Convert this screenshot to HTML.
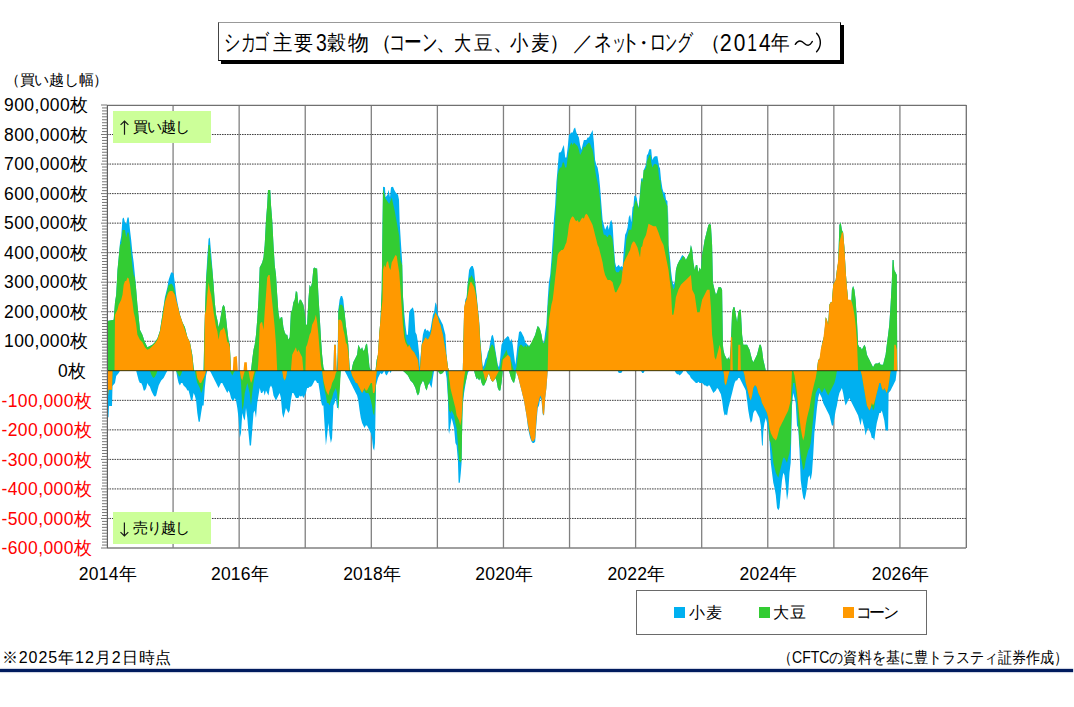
<!DOCTYPE html>
<html><head><meta charset="utf-8">
<style>
html,body{margin:0;padding:0;background:#fff;}
body{width:1074px;height:707px;overflow:hidden;position:relative;font-family:"Liberation Sans",sans-serif;}
svg{position:absolute;left:0;top:0;}
text{font-family:"Liberation Sans",sans-serif;}
.yl{font-size:17.5px;letter-spacing:0.4px;}
.xl{font-size:17.5px;letter-spacing:0.2px;}
.tt{position:absolute;left:218px;top:22px;width:621px;height:37px;border:1px solid #000;border-top-color:#999;border-left-color:#444;background:#fff;box-shadow:3px 3px 0 0 #000;font-size:20.5px;line-height:37px;white-space:nowrap;letter-spacing:-2.5px;}
.tt span{position:absolute;left:4px;top:0;}
.tt em{font-style:normal;letter-spacing:0.3px;}
.ax{position:absolute;left:5px;top:71px;font-size:15px;white-space:nowrap;letter-spacing:-0.3px;}
.lg{position:absolute;left:636px;top:590px;width:289px;height:43px;border:1px solid #6a6a6a;background:#fff;}
.lg i{position:absolute;top:16px;width:11px;height:11px;}
.lg b{position:absolute;top:12px;font-weight:normal;font-size:15.5px;white-space:nowrap;}
.ft{position:absolute;font-size:16px;white-space:nowrap;}
.nv{position:absolute;left:0;top:668.7px;width:1073px;height:3.6px;background:#001B5E;box-shadow:0 0 1px 0.2px rgba(0,27,94,0.6);}
.bx{position:absolute;background:#CCFF99;font-size:15px;white-space:nowrap;letter-spacing:-0.9px;}
</style></head><body>
<svg width="1074" height="707" viewBox="0 0 1074 707">
<rect x="107" y="105" width="859" height="443" fill="#fff"/>
<line x1="107" y1="134.53" x2="966" y2="134.53" stroke="#404040" stroke-width="1" stroke-dasharray="1.6,0.9"/>
<line x1="107" y1="164.07" x2="966" y2="164.07" stroke="#404040" stroke-width="1" stroke-dasharray="1.6,0.9"/>
<line x1="107" y1="193.60" x2="966" y2="193.60" stroke="#404040" stroke-width="1" stroke-dasharray="1.6,0.9"/>
<line x1="107" y1="223.13" x2="966" y2="223.13" stroke="#404040" stroke-width="1" stroke-dasharray="1.6,0.9"/>
<line x1="107" y1="252.67" x2="966" y2="252.67" stroke="#404040" stroke-width="1" stroke-dasharray="1.6,0.9"/>
<line x1="107" y1="282.20" x2="966" y2="282.20" stroke="#404040" stroke-width="1" stroke-dasharray="1.6,0.9"/>
<line x1="107" y1="311.73" x2="966" y2="311.73" stroke="#404040" stroke-width="1" stroke-dasharray="1.6,0.9"/>
<line x1="107" y1="341.27" x2="966" y2="341.27" stroke="#404040" stroke-width="1" stroke-dasharray="1.6,0.9"/>
<line x1="107" y1="400.33" x2="966" y2="400.33" stroke="#404040" stroke-width="1" stroke-dasharray="1.6,0.9"/>
<line x1="107" y1="429.87" x2="966" y2="429.87" stroke="#404040" stroke-width="1" stroke-dasharray="1.6,0.9"/>
<line x1="107" y1="459.40" x2="966" y2="459.40" stroke="#404040" stroke-width="1" stroke-dasharray="1.6,0.9"/>
<line x1="107" y1="488.93" x2="966" y2="488.93" stroke="#404040" stroke-width="1" stroke-dasharray="1.6,0.9"/>
<line x1="107" y1="518.47" x2="966" y2="518.47" stroke="#404040" stroke-width="1" stroke-dasharray="1.6,0.9"/>
<line x1="173.08" y1="105" x2="173.08" y2="548" stroke="#808080" stroke-width="1.3"/>
<line x1="239.15" y1="105" x2="239.15" y2="548" stroke="#808080" stroke-width="1.3"/>
<line x1="305.23" y1="105" x2="305.23" y2="548" stroke="#808080" stroke-width="1.3"/>
<line x1="371.31" y1="105" x2="371.31" y2="548" stroke="#808080" stroke-width="1.3"/>
<line x1="437.38" y1="105" x2="437.38" y2="548" stroke="#808080" stroke-width="1.3"/>
<line x1="503.46" y1="105" x2="503.46" y2="548" stroke="#808080" stroke-width="1.3"/>
<line x1="569.54" y1="105" x2="569.54" y2="548" stroke="#808080" stroke-width="1.3"/>
<line x1="635.62" y1="105" x2="635.62" y2="548" stroke="#808080" stroke-width="1.3"/>
<line x1="701.69" y1="105" x2="701.69" y2="548" stroke="#808080" stroke-width="1.3"/>
<line x1="767.77" y1="105" x2="767.77" y2="548" stroke="#808080" stroke-width="1.3"/>
<line x1="833.85" y1="105" x2="833.85" y2="548" stroke="#808080" stroke-width="1.3"/>
<line x1="899.92" y1="105" x2="899.92" y2="548" stroke="#808080" stroke-width="1.3"/>
<g>
<path d="M107.5,370.8L107.5,321.0L113.7,319.8L115.0,302.3L116.2,294.8L117.5,269.9L118.7,257.4L120.0,242.4L121.2,236.2L122.5,218.7L123.7,217.5L125.0,222.5L126.2,223.7L127.5,217.5L128.7,217.5L130.0,229.9L131.2,239.9L132.5,253.6L133.7,262.4L134.9,274.9L136.2,289.8L137.4,304.8L138.7,317.3L139.9,329.8L142.4,334.8L144.9,342.2L147.4,347.2L149.9,346.0L152.4,344.7L154.9,342.2L157.4,338.5L159.9,331.0L162.4,314.8L164.9,297.3L167.4,287.3L168.6,279.9L169.9,276.1L171.1,272.4L172.4,272.4L173.6,273.6L174.9,283.6L176.1,294.8L177.4,302.3L179.9,314.8L182.4,322.3L184.9,327.3L187.4,337.3L189.9,342.2L192.3,354.7L193.6,367.2L194.3,370.8L203.6,370.8L204.3,334.8L206.1,277.4L207.3,257.4L208.6,238.7L209.8,237.4L211.1,252.4L212.3,267.4L213.6,284.8L214.8,302.3L216.1,314.8L217.3,319.8L218.6,327.3L219.8,322.3L221.0,314.8L222.3,307.3L223.5,304.8L224.8,307.3L226.0,317.3L227.3,329.8L228.5,339.7L229.8,344.7L231.0,370.8L251.0,370.8L252.2,359.7L253.5,349.7L254.7,344.7L256.0,334.8L257.2,319.8L258.5,299.8L259.7,267.4L261.0,264.9L262.2,262.4L263.5,257.4L264.7,244.9L266.0,220.0L267.2,205.0L268.0,190.0L270.2,190.0L271.0,205.0L272.2,220.0L273.5,244.9L274.7,264.9L276.0,274.9L277.2,294.8L278.4,312.3L279.7,319.8L280.9,317.3L282.2,317.3L283.4,327.3L284.7,332.3L285.9,334.8L287.2,334.8L288.4,339.7L289.7,337.3L290.9,312.3L292.2,309.8L293.4,302.3L294.7,299.8L295.9,291.1L297.2,292.3L298.4,304.8L299.7,299.8L300.9,299.8L302.2,302.3L303.4,304.8L304.7,312.3L305.9,324.8L307.1,324.8L308.4,299.8L309.6,284.8L310.9,287.3L312.1,282.3L313.4,268.6L314.6,267.4L315.9,268.6L317.1,268.6L318.4,294.8L319.6,314.8L320.9,337.3L322.1,354.7L323.4,367.2L324.6,370.8L333.4,370.8L334.1,344.7L335.8,344.7L336.6,370.8L337.6,354.7L338.3,309.8L339.6,299.8L340.8,296.1L342.1,296.1L343.3,299.8L344.6,312.3L345.8,324.8L347.1,334.8L348.3,344.7L349.6,367.2L350.3,370.8L351.6,370.8L352.1,367.2L353.3,362.2L354.6,359.7L357.1,354.7L358.3,344.7L359.6,347.2L360.8,349.7L362.1,347.2L363.3,351.0L364.5,349.7L365.8,344.7L367.0,343.5L368.3,354.7L369.5,367.2L371.0,370.8L375.0,370.8L375.5,370.8L376.7,359.7L378.0,354.7L379.2,334.8L380.5,319.8L381.7,289.8L382.5,224.9L383.0,186.8L385.0,187.3L385.5,197.3L387.5,194.8L388.5,189.8L390.0,197.3L391.0,187.3L393.0,186.8L394.2,189.8L395.5,192.3L398.0,194.8L399.0,199.8L399.7,223.0L401.0,243.9L402.2,261.9L402.9,294.8L404.2,312.3L405.4,324.8L406.7,334.8L407.9,334.8L409.2,312.3L410.4,309.8L411.7,308.6L412.9,307.3L414.2,312.3L415.4,332.3L416.7,334.8L417.9,342.2L419.2,354.7L419.9,367.2L420.4,357.2L421.7,344.7L422.9,334.8L424.2,329.8L425.4,328.5L426.7,331.0L427.9,329.8L429.2,332.3L430.4,329.8L432.9,314.8L434.1,312.3L435.4,302.3L436.6,304.8L437.9,314.8L439.1,317.3L440.4,319.8L441.6,322.3L442.9,324.8L444.1,329.8L445.4,334.8L446.6,354.7L447.9,367.2L449.1,370.8L462.3,370.8L462.8,370.8L464.1,312.3L465.3,299.8L466.6,297.3L467.8,282.3L469.1,269.9L470.3,267.4L471.6,266.1L472.8,266.1L474.1,269.9L475.3,282.3L476.6,294.8L477.8,307.3L479.1,319.8L480.3,339.7L481.6,354.7L482.8,367.2L484.1,364.7L485.3,359.7L486.6,357.2L487.8,352.2L489.0,349.7L490.3,342.2L491.5,336.0L492.8,334.8L494.0,339.7L495.3,349.7L496.5,357.2L497.8,364.7L499.0,367.2L500.3,357.2L501.5,344.7L502.8,342.2L504.0,339.7L505.3,338.5L506.5,337.3L507.8,336.0L509.0,337.3L510.3,342.2L511.5,338.5L512.8,344.7L514.0,354.7L515.3,364.7L516.5,354.7L517.7,342.2L519.0,332.3L520.2,331.0L521.5,332.3L522.7,334.8L524.0,337.3L525.2,342.2L526.5,343.5L527.7,344.7L529.0,346.0L530.2,344.7L531.5,343.5L532.7,342.2L534.0,337.3L535.2,334.8L536.5,329.8L537.7,326.0L539.0,327.3L540.2,329.8L541.5,334.8L542.7,342.2L544.0,342.2L545.2,332.3L546.4,324.8L547.7,299.8L548.9,282.3L550.2,274.9L551.4,259.7L552.7,239.8L553.9,219.8L555.2,204.8L556.4,182.4L557.7,167.4L558.9,152.4L560.2,152.4L561.4,151.2L562.7,147.4L563.9,144.9L565.2,157.4L566.4,157.4L567.7,147.4L568.9,134.9L570.2,133.7L571.4,132.4L572.7,132.4L573.9,128.7L575.1,127.5L576.4,132.4L577.6,134.9L578.9,137.4L580.1,144.9L581.4,149.9L582.6,144.9L583.9,139.9L585.1,139.9L586.4,139.9L587.6,137.4L588.9,137.4L590.1,134.9L591.4,132.4L592.6,129.9L593.9,142.4L595.1,159.9L596.4,164.9L597.6,167.4L598.9,174.9L600.1,187.3L601.4,204.8L602.6,219.8L603.8,224.8L605.1,229.8L606.3,227.3L607.6,224.8L608.8,229.8L610.1,222.3L611.3,219.8L612.6,224.8L613.8,244.7L615.1,262.2L616.3,267.2L617.6,266.0L618.8,264.7L620.1,267.2L621.3,266.0L622.6,267.2L623.8,249.7L625.1,234.8L626.3,232.3L627.6,227.3L628.8,217.3L630.1,214.8L631.3,222.3L632.5,207.3L633.4,206.1L634.3,196.1L635.6,195.5L636.8,198.6L637.4,202.4L638.7,207.4L639.9,193.6L641.2,178.7L642.4,178.0L643.0,179.9L643.7,169.9L644.9,167.4L646.2,163.7L646.8,155.6L648.0,153.7L649.3,149.3L651.2,149.3L651.8,156.2L652.4,159.9L653.6,157.4L654.9,156.2L657.4,156.2L658.0,159.9L659.3,167.4L659.9,167.4L661.1,179.9L662.4,188.6L663.6,192.4L664.9,192.4L666.1,199.9L667.4,201.1L668.0,220.0L668.0,207.4L668.5,244.9L669.7,254.9L670.4,262.4L670.9,269.9L672.2,279.9L673.4,284.8L674.7,282.3L675.9,269.9L677.2,264.9L678.4,262.4L679.7,259.9L680.9,257.4L682.2,254.9L683.4,256.1L684.7,257.4L685.9,259.9L687.2,257.4L688.4,254.9L689.7,252.4L690.9,244.9L692.2,249.9L693.4,262.4L694.7,269.9L695.9,264.9L697.2,264.9L698.4,272.4L699.6,267.4L700.9,269.9L702.1,254.9L703.4,247.4L704.6,239.9L705.9,234.9L707.1,229.9L708.4,224.9L709.6,223.7L710.9,224.9L712.1,244.9L712.9,282.3L713.4,284.8L714.6,289.8L715.9,294.8L717.1,292.3L718.4,287.3L719.6,287.3L720.9,287.3L722.1,289.8L722.9,344.7L723.4,349.7L724.6,354.7L725.9,357.2L727.1,359.7L728.3,357.2L729.6,359.7L730.8,344.7L732.1,312.3L733.3,307.3L734.6,307.3L735.8,314.8L737.1,322.3L738.3,312.3L739.6,309.8L740.8,309.8L742.1,334.8L743.3,344.7L744.6,344.7L745.8,344.7L747.1,344.7L748.3,347.2L749.6,349.7L750.8,354.7L752.1,359.7L753.3,362.2L754.6,359.7L755.8,357.2L757.0,354.7L758.3,349.7L759.5,344.7L760.8,344.7L762.0,349.7L763.3,359.7L764.5,364.7L765.8,370.8L767.0,370.8L816.4,370.8L816.9,370.8L818.2,359.7L819.4,359.7L820.7,354.7L821.9,344.7L823.2,339.7L824.4,334.8L825.7,317.3L826.9,319.8L828.2,324.8L829.4,304.8L830.7,302.3L831.9,302.3L833.2,284.8L834.4,282.3L835.7,279.9L836.9,269.9L838.2,262.4L839.4,224.9L840.7,222.5L841.9,229.9L843.1,232.4L844.4,247.4L845.6,269.9L846.9,287.3L848.1,299.8L849.4,307.3L850.6,317.3L851.9,289.8L853.1,286.1L854.4,289.8L855.6,299.8L856.9,319.8L858.1,344.7L859.4,347.2L860.6,347.2L861.9,349.7L863.1,347.2L864.4,344.7L865.6,347.2L866.9,354.7L868.1,357.2L869.4,359.7L870.6,362.2L871.8,364.7L873.1,367.2L874.3,364.7L875.6,363.5L876.8,363.5L878.1,363.5L879.3,362.2L880.6,364.7L881.8,364.7L883.1,364.7L884.3,359.7L885.6,354.7L886.8,344.7L888.1,334.8L889.3,324.8L890.6,304.8L891.8,282.3L892.6,259.9L893.6,259.9L894.3,269.9L895.6,272.4L896.8,274.9L897.3,370.8L897.3,370.8Z" fill="#00B0F0"/>
<path d="M107.0,370.8L107.0,417.2L108.5,417.2L109.0,405.9L112.0,405.9L112.5,386.0L115.0,383.0L116.2,376.0L118.7,373.0L120.0,370.8L136.2,370.8L137.4,375.5L138.7,380.5L139.9,383.0L141.2,383.0L142.4,385.5L143.7,390.5L144.9,390.5L146.2,388.0L147.4,383.0L148.7,385.5L149.9,386.7L151.2,390.5L152.4,393.0L153.7,395.5L154.9,396.7L156.2,395.5L157.4,390.5L158.7,385.5L159.9,383.0L161.2,380.5L162.4,379.2L163.6,378.0L164.9,375.5L166.1,373.0L167.4,370.8L168.6,370.8L176.1,370.8L177.4,378.0L178.6,383.0L179.9,385.5L181.1,383.0L182.4,383.0L183.6,385.5L184.9,386.7L186.1,388.0L187.4,390.5L188.6,390.5L189.9,395.5L191.1,400.4L192.3,400.4L193.6,393.0L194.8,395.5L196.1,400.4L197.3,412.9L198.6,421.7L199.8,421.7L201.1,412.9L202.3,405.4L203.6,405.4L204.8,388.0L206.1,375.5L207.3,370.8L209.8,370.8L211.1,373.0L212.3,375.5L213.6,378.0L214.8,380.5L216.1,383.0L217.3,385.5L218.6,388.0L219.8,385.5L221.0,383.0L222.3,383.0L223.5,385.5L224.8,388.0L226.0,390.5L227.3,393.0L228.5,390.5L229.8,393.0L231.0,397.9L232.3,400.4L233.5,400.4L234.8,397.9L236.0,400.4L237.3,407.9L238.5,417.9L239.8,437.9L241.0,432.9L242.3,412.9L243.5,417.9L244.8,420.4L246.0,407.9L247.3,417.9L248.5,432.9L249.7,445.4L251.0,445.4L252.2,430.4L253.5,412.9L254.7,410.4L256.0,417.9L257.2,402.9L258.5,395.5L259.7,388.0L261.0,393.0L262.2,393.0L263.5,390.5L264.7,395.5L266.0,390.5L267.2,393.0L268.5,395.5L269.7,388.0L271.0,385.5L272.2,388.0L273.5,395.5L274.7,397.9L276.0,400.4L277.2,397.9L278.4,395.5L279.7,393.0L280.9,397.9L282.2,412.9L283.4,417.9L284.7,412.9L285.9,407.9L287.2,410.4L288.4,412.9L289.7,410.4L290.9,400.4L292.2,393.0L293.4,393.0L294.7,395.5L295.9,397.9L297.2,397.9L298.4,397.9L299.7,395.5L300.9,396.7L302.2,395.5L303.4,397.9L304.7,395.5L305.9,393.0L307.1,388.0L308.4,388.0L309.6,386.7L310.9,386.7L312.1,385.5L313.4,383.0L314.6,380.5L315.9,380.5L317.1,383.0L318.4,383.0L319.6,390.5L320.9,400.4L322.1,405.4L323.4,405.4L324.6,425.4L325.9,445.4L327.1,435.4L328.4,422.9L329.6,435.4L330.9,442.9L332.1,437.9L333.4,405.4L334.6,402.9L335.8,397.9L337.1,407.9L338.3,407.9L339.6,383.0L340.8,370.8L344.6,370.8L345.8,373.0L347.1,375.5L348.3,378.0L349.6,380.5L350.8,383.0L352.1,385.5L353.3,388.0L354.6,390.5L355.8,393.0L357.1,395.5L358.3,400.4L359.6,410.4L360.8,417.9L362.1,422.9L363.3,425.4L364.5,427.9L365.8,425.4L367.0,425.4L368.3,427.9L369.5,430.4L370.8,432.9L372.0,437.9L373.0,447.9L374.2,450.4L375.0,442.9L375.5,412.9L376.0,385.5L376.7,383.0L378.0,378.0L379.2,375.5L380.5,373.0L381.7,374.2L383.0,373.0L384.2,370.8L385.5,374.2L386.7,375.5L388.0,373.0L389.2,370.8L390.5,373.0L391.7,370.8L393.0,370.8L402.9,370.8L405.4,373.0L407.9,375.5L409.2,378.0L410.4,380.5L411.7,381.7L412.9,383.0L414.2,385.5L415.4,388.0L416.7,393.0L417.9,395.5L419.2,393.0L420.4,385.5L421.7,383.0L422.9,380.5L424.2,383.0L425.4,388.0L426.7,390.5L427.9,385.5L429.2,383.0L430.4,385.5L431.6,388.0L432.9,378.0L434.1,370.8L437.9,370.8L439.1,373.0L440.4,374.2L442.9,373.0L444.1,370.8L445.4,370.8L446.6,378.0L447.9,397.9L448.6,430.4L449.1,434.1L450.4,425.4L451.6,417.9L452.9,422.9L454.1,427.9L455.4,442.9L456.6,445.4L457.9,460.3L458.6,482.8L459.8,482.8L460.8,472.8L461.6,462.8L462.3,417.9L462.8,405.4L464.1,393.0L465.3,385.5L466.6,378.0L467.8,373.0L469.1,370.8L474.1,370.8L475.3,375.5L476.6,379.2L477.8,378.0L479.1,380.5L480.3,378.0L481.6,383.0L482.8,385.5L484.1,385.5L485.3,383.0L486.6,378.0L487.8,375.5L489.0,373.0L490.3,378.0L491.5,380.5L492.8,381.7L494.0,380.5L495.3,378.0L496.5,380.5L497.8,388.0L499.0,390.5L500.3,390.5L501.5,383.0L502.8,370.8L509.0,370.8L510.3,375.5L511.5,379.2L512.8,381.7L514.0,383.0L515.3,378.0L515.8,370.8L516.5,373.0L517.7,375.5L519.0,380.5L520.2,385.5L521.5,390.5L522.7,395.5L524.0,400.4L525.2,407.9L526.5,415.4L527.7,425.4L529.0,432.9L530.2,437.9L531.5,441.6L532.7,442.9L534.0,442.9L535.2,441.6L536.5,422.9L537.7,407.9L539.0,405.4L540.2,397.9L541.5,400.4L542.7,414.2L544.0,415.4L545.2,397.9L546.4,388.0L547.7,370.8L617.6,370.8L618.8,373.0L621.3,373.0L622.6,370.8L641.0,370.8L642.2,373.0L643.5,373.0L644.7,370.8L673.4,370.8L674.7,370.8L675.9,373.0L677.2,374.2L678.4,374.2L679.7,375.5L680.9,374.2L682.2,373.0L683.4,370.8L684.7,370.8L685.9,370.8L687.2,373.0L688.4,374.2L689.7,375.5L690.9,378.0L692.2,379.2L693.4,380.5L694.7,381.7L695.9,383.0L697.2,383.0L698.4,381.7L699.6,383.0L700.9,383.0L702.1,383.0L703.4,384.2L704.6,385.5L705.9,385.5L707.1,386.7L708.4,385.5L709.6,385.5L710.9,388.0L712.1,390.5L713.4,393.0L714.6,391.7L715.9,390.5L717.1,388.0L718.4,389.2L719.6,391.7L720.9,394.2L722.1,400.4L723.4,410.4L724.6,415.4L725.9,414.2L727.1,415.4L728.3,407.9L729.6,402.9L730.8,397.9L732.1,393.0L733.3,388.0L734.6,383.0L735.8,380.5L737.1,380.5L738.3,378.0L739.6,378.0L740.8,380.5L742.1,383.0L743.3,385.5L744.6,388.0L745.8,390.5L747.1,400.4L748.3,410.4L749.6,417.9L750.8,422.9L752.1,420.4L753.3,412.9L754.6,410.4L755.8,410.4L757.0,412.9L758.3,415.4L759.5,417.9L760.8,425.4L762.0,445.4L762.8,445.4L763.3,430.4L764.5,422.9L765.8,417.9L767.0,422.9L768.3,430.4L769.5,440.4L770.8,462.8L772.0,472.8L773.3,482.8L774.5,487.8L775.8,495.3L777.0,507.8L778.3,510.3L779.5,507.8L780.8,492.8L782.0,480.3L783.3,472.8L784.5,475.3L785.7,485.3L787.0,500.3L788.2,492.8L789.5,472.8L790.7,462.8L792.0,405.4L793.2,393.0L794.5,397.9L795.7,402.9L797.0,425.4L798.2,427.9L799.5,450.4L800.7,480.3L802.0,490.3L803.2,497.8L804.5,500.3L805.7,495.3L807.0,487.8L808.2,477.8L809.5,475.3L810.7,480.3L812.0,472.8L813.2,455.3L814.4,432.9L815.7,420.4L816.9,407.9L818.2,397.9L819.4,393.0L820.7,395.5L821.9,397.9L823.2,402.9L824.4,405.4L825.7,407.9L826.9,410.4L828.2,412.9L829.4,415.4L830.7,420.4L831.9,425.4L833.2,425.4L834.4,417.9L835.7,410.4L836.9,405.4L838.2,397.9L839.4,393.0L840.7,390.5L841.9,388.0L843.1,393.0L844.4,400.4L845.6,405.4L846.9,402.9L848.1,400.4L849.4,397.9L850.6,400.4L851.9,402.9L853.1,405.4L854.4,407.9L855.6,410.4L856.9,412.9L858.1,415.4L859.4,420.4L860.6,425.4L861.9,417.9L863.1,422.9L864.4,427.9L865.6,435.4L866.9,430.4L868.1,427.9L869.4,430.4L870.6,432.9L871.8,437.9L873.1,437.9L874.3,440.4L875.6,430.4L876.8,422.9L878.1,417.9L879.3,412.9L880.6,412.9L881.8,410.4L883.1,415.4L884.3,420.4L885.6,430.4L886.8,430.4L888.1,430.4L888.6,393.0L890.6,390.5L891.8,388.0L893.1,385.5L894.3,383.0L895.6,380.5L896.8,370.8L896.8,370.8Z" fill="#00B0F0"/>
<path d="M107.5,370.8L107.5,321.0L113.7,319.8L115.0,302.3L116.2,294.8L117.5,269.9L118.7,257.4L120.0,244.9L121.2,243.7L122.5,229.9L125.0,229.9L126.2,237.4L127.5,232.4L128.7,232.4L130.0,242.4L131.2,253.6L132.5,267.4L133.7,274.9L134.9,277.4L136.2,289.8L137.4,304.8L138.7,317.3L139.9,329.8L142.4,334.8L144.9,342.2L147.4,347.2L149.9,346.0L152.4,344.7L154.9,342.2L157.4,338.5L159.9,331.0L162.4,314.8L164.9,299.8L167.4,289.8L168.6,284.8L169.9,284.8L171.1,283.6L172.4,284.8L173.6,287.3L174.9,292.3L176.1,302.3L177.4,304.8L179.9,314.8L182.4,322.3L184.9,327.3L187.4,337.3L189.9,342.2L192.3,354.7L193.6,367.2L194.3,370.8L203.6,370.8L204.3,334.8L206.1,279.9L207.3,264.9L208.6,244.9L209.8,244.9L211.1,259.9L212.3,269.9L213.6,284.8L214.8,302.3L216.1,314.8L217.3,319.8L218.6,327.3L219.8,322.3L221.0,314.8L222.3,307.3L223.5,304.8L224.8,307.3L226.0,317.3L227.3,329.8L228.5,339.7L229.8,344.7L231.0,370.8L251.0,370.8L252.2,359.7L253.5,349.7L254.7,344.7L256.0,334.8L257.2,319.8L258.5,299.8L259.7,267.4L261.0,264.9L262.2,262.4L263.5,257.4L264.7,244.9L266.0,220.0L267.2,205.0L268.0,190.0L270.2,190.0L271.0,205.0L272.2,220.0L273.5,244.9L274.7,264.9L276.0,274.9L277.2,294.8L278.4,312.3L279.7,319.8L280.9,317.3L282.2,317.3L283.4,327.3L284.7,332.3L285.9,334.8L287.2,334.8L288.4,339.7L289.7,337.3L290.9,312.3L292.2,309.8L293.4,302.3L294.7,299.8L295.9,291.1L297.2,292.3L298.4,304.8L299.7,299.8L300.9,299.8L302.2,302.3L303.4,304.8L304.7,312.3L305.9,324.8L307.1,324.8L308.4,299.8L309.6,284.8L310.9,287.3L312.1,282.3L313.4,268.6L314.6,267.4L315.9,268.6L317.1,268.6L318.4,294.8L319.6,314.8L320.9,337.3L322.1,354.7L323.4,367.2L324.6,370.8L333.4,370.8L337.6,370.8L338.3,312.3L339.6,304.8L340.8,304.8L342.1,304.8L343.3,307.3L344.6,312.3L345.8,324.8L347.1,334.8L348.3,344.7L349.6,367.2L350.3,370.8L351.6,370.8L352.1,367.2L353.3,362.2L354.6,359.7L357.1,354.7L358.3,344.7L359.6,347.2L360.8,349.7L362.1,347.2L363.3,351.0L364.5,349.7L365.8,344.7L367.0,343.5L368.3,354.7L369.5,367.2L371.0,370.8L375.0,370.8L375.5,370.8L376.7,359.7L378.0,354.7L379.2,334.8L380.5,319.8L381.7,289.8L382.5,227.4L383.0,188.6L385.5,198.6L389.2,204.1L391.7,197.6L394.7,211.1L399.2,236.0L400.5,259.9L402.2,264.9L402.9,294.8L404.2,324.8L405.4,337.3L406.7,342.2L407.9,344.7L409.2,344.7L410.4,347.2L411.7,349.7L412.9,351.0L414.2,352.2L415.4,354.7L416.7,357.2L417.9,359.7L419.2,370.8L419.9,370.8L420.9,357.2L421.7,344.7L422.9,342.2L424.2,339.7L425.4,337.3L426.7,338.5L427.9,339.7L429.2,337.3L430.4,334.8L431.6,329.8L432.9,319.8L434.1,317.3L435.4,312.3L436.6,314.8L437.9,317.3L439.1,322.3L440.4,324.8L441.6,329.8L442.9,334.8L444.1,342.2L445.4,349.7L446.6,357.2L447.9,367.2L449.1,370.8L462.3,370.8L462.8,370.8L464.1,312.3L465.3,302.3L466.6,299.8L467.8,284.8L469.1,277.4L470.3,277.4L471.6,274.9L472.8,277.4L474.1,279.9L475.3,287.3L476.6,297.3L477.8,309.8L479.1,322.3L480.3,342.2L481.6,357.2L482.8,370.8L485.3,367.2L486.6,362.2L487.8,357.2L489.0,349.7L490.3,347.2L491.5,344.7L492.8,344.7L494.0,347.2L495.3,352.2L496.5,359.7L497.8,367.2L499.0,370.8L500.3,367.2L501.5,359.7L502.8,357.2L504.0,354.7L505.3,352.2L506.5,349.7L507.8,354.7L509.0,357.2L510.3,359.7L511.5,362.2L512.8,367.2L514.0,370.8L515.3,370.8L516.5,367.2L517.7,357.2L519.0,347.2L520.2,344.7L521.5,344.7L522.7,346.0L524.0,347.2L525.2,344.7L526.5,347.2L527.7,344.7L529.0,347.2L530.2,344.7L531.5,342.2L532.7,339.7L534.0,337.3L535.2,334.8L536.5,329.8L537.7,326.0L539.0,327.3L540.2,329.8L541.5,334.8L542.7,342.2L544.0,343.5L545.2,339.7L546.4,334.8L547.7,307.3L548.9,294.8L550.2,282.3L552.7,254.7L553.9,239.8L555.2,219.8L556.4,199.8L557.7,174.9L558.9,169.9L560.2,167.4L561.4,167.4L562.7,162.4L563.9,162.4L565.2,167.4L566.4,167.4L567.7,157.4L568.9,149.9L570.2,144.9L571.4,142.4L572.7,144.9L573.9,142.4L575.1,143.7L576.4,144.9L577.6,146.2L578.9,149.9L580.1,154.9L581.4,152.4L582.6,149.9L583.9,146.2L585.1,147.4L586.4,144.9L587.6,143.7L588.9,142.4L590.1,143.7L591.4,147.4L592.6,149.9L593.9,157.4L595.1,169.9L596.4,177.4L597.6,182.4L598.9,189.8L600.1,199.8L601.4,217.3L602.6,229.8L603.8,234.8L605.1,234.8L606.3,236.0L607.6,237.3L608.8,234.8L610.1,234.8L611.3,236.0L612.6,239.8L613.8,252.2L615.1,269.7L616.3,272.2L617.6,272.2L618.8,272.2L620.1,269.7L621.3,269.7L622.6,272.2L623.8,262.2L625.1,254.7L626.3,239.8L627.6,234.8L628.8,229.8L630.1,229.8L631.3,229.8L632.5,222.3L633.4,209.9L634.3,204.9L635.6,199.9L636.8,201.7L637.4,204.9L638.7,208.6L639.9,197.4L641.2,179.9L642.4,182.4L643.7,169.9L644.9,169.9L646.2,167.4L646.8,161.2L648.0,158.7L649.3,155.0L650.5,155.0L651.2,162.4L652.4,167.4L653.6,164.9L654.9,163.7L657.4,164.9L658.0,167.4L659.3,179.9L660.5,179.9L661.1,188.6L662.4,192.4L663.6,197.4L664.9,199.9L666.1,203.6L667.4,206.1L668.0,227.4L668.0,211.1L668.5,252.4L669.7,262.4L670.4,269.9L670.9,277.4L672.2,284.8L673.4,289.8L674.7,287.3L675.9,269.9L677.2,264.9L678.4,262.4L679.7,259.9L680.9,259.9L682.2,257.4L683.4,256.1L684.7,257.4L685.9,259.9L687.2,257.4L688.4,254.9L689.7,252.4L690.9,244.9L692.2,249.9L693.4,262.4L694.7,269.9L695.9,264.9L697.2,264.9L698.4,272.4L699.6,267.4L700.9,269.9L702.1,254.9L703.4,247.4L704.6,239.9L705.9,234.9L707.1,229.9L708.4,224.9L709.6,223.7L710.9,224.9L712.1,244.9L712.9,282.3L713.4,284.8L714.6,289.8L715.9,294.8L717.1,292.3L718.4,287.3L719.6,287.3L720.9,287.3L722.1,289.8L722.9,344.7L723.4,349.7L724.6,354.7L725.9,357.2L727.1,359.7L728.3,357.2L729.6,359.7L730.8,344.7L732.1,312.3L733.3,307.3L734.6,307.3L735.8,314.8L737.1,322.3L738.3,312.3L739.6,309.8L740.8,309.8L742.1,334.8L743.3,344.7L744.6,344.7L745.8,344.7L747.1,344.7L748.3,347.2L749.6,349.7L750.8,354.7L752.1,359.7L753.3,362.2L754.6,359.7L755.8,357.2L757.0,354.7L758.3,349.7L759.5,344.7L760.8,344.7L762.0,349.7L763.3,359.7L764.5,364.7L765.8,370.8L767.0,370.8L816.4,370.8L816.9,370.8L818.2,359.7L819.4,359.7L820.7,354.7L821.9,344.7L823.2,339.7L824.4,334.8L825.7,317.3L826.9,319.8L828.2,324.8L829.4,304.8L830.7,302.3L831.9,302.3L833.2,284.8L834.4,282.3L835.7,279.9L836.9,269.9L838.2,262.4L839.4,224.9L840.7,222.5L841.9,229.9L843.1,232.4L844.4,247.4L845.6,269.9L846.9,287.3L848.1,299.8L849.4,307.3L850.6,317.3L851.9,289.8L853.1,286.1L854.4,289.8L855.6,299.8L856.9,319.8L858.1,344.7L859.4,347.2L860.6,347.2L861.9,349.7L863.1,347.2L864.4,344.7L865.6,347.2L866.9,354.7L868.1,357.2L869.4,359.7L870.6,362.2L871.8,364.7L873.1,367.2L874.3,364.7L875.6,363.5L876.8,363.5L878.1,363.5L879.3,362.2L880.6,364.7L881.8,364.7L883.1,364.7L884.3,359.7L885.6,354.7L886.8,344.7L888.1,334.8L889.3,324.8L890.6,304.8L891.8,282.3L892.6,259.9L893.6,259.9L894.3,269.9L895.6,272.4L896.8,274.9L897.3,370.8L897.3,370.8Z" fill="#33CC33"/>
<path d="M107.0,370.8L107.0,396.0L108.0,396.0L108.5,389.7L112.0,389.7L112.5,370.8L149.9,370.8L151.2,374.2L152.4,376.7L153.7,378.0L154.9,376.7L156.2,374.2L157.4,370.8L176.1,370.8L177.4,373.0L178.6,375.5L179.9,376.7L181.1,374.2L182.4,370.8L194.8,370.8L196.1,378.0L197.3,383.0L198.6,385.5L199.8,388.0L201.1,393.0L202.3,390.5L203.6,383.0L204.8,375.5L206.1,370.8L229.8,370.8L231.0,373.0L232.3,375.5L233.5,373.0L234.8,370.8L239.8,370.8L241.0,383.0L242.3,410.4L243.5,405.4L244.8,393.0L246.0,388.0L247.3,383.0L248.5,388.0L249.7,393.0L251.0,405.4L252.2,393.0L253.5,383.0L254.7,375.5L256.0,370.8L282.2,370.8L283.4,378.0L284.7,380.5L285.9,378.0L287.2,370.8L322.1,370.8L323.4,383.0L324.6,390.5L325.9,395.5L327.1,402.9L328.4,402.9L329.6,405.4L330.9,400.4L332.1,397.9L333.4,393.0L334.6,390.5L335.8,388.0L337.1,393.0L338.3,410.4L339.6,393.0L340.8,370.8L350.8,370.8L352.1,375.5L353.3,378.0L354.6,380.5L355.8,383.0L357.1,383.0L358.3,385.5L359.6,388.0L360.8,390.5L362.1,393.0L363.3,390.5L364.5,390.5L365.8,393.0L367.0,393.0L368.3,393.0L369.5,395.5L370.8,400.4L372.0,405.4L373.0,412.9L374.2,415.4L375.0,405.4L375.5,393.0L376.0,378.0L376.7,370.8L402.9,370.8L405.4,373.0L407.9,375.5L409.2,378.0L410.4,380.5L411.7,381.7L412.9,383.0L414.2,385.5L415.4,388.0L416.7,393.0L417.9,395.5L419.2,393.0L420.4,385.5L421.7,383.0L422.9,380.5L424.2,383.0L425.4,388.0L426.7,390.5L427.9,385.5L429.2,383.0L430.4,380.5L431.6,378.0L432.9,370.8L437.9,370.8L439.1,373.0L440.4,374.2L442.9,373.0L444.1,370.8L447.4,370.8L447.9,393.0L449.1,410.4L450.4,412.9L451.6,410.4L452.9,412.9L454.1,415.4L455.4,422.9L456.6,427.9L457.9,442.9L459.1,460.3L460.3,462.8L461.6,460.3L462.3,417.9L462.8,400.4L464.1,388.0L465.3,383.0L466.6,378.0L467.8,370.8L474.1,370.8L475.3,375.5L476.6,379.2L477.8,378.0L479.1,380.5L480.3,378.0L481.6,383.0L482.8,385.5L484.1,385.5L485.3,383.0L486.6,380.5L487.8,375.5L489.0,373.0L490.3,378.0L491.5,380.5L492.8,381.7L494.0,380.5L495.3,378.0L496.5,380.5L497.8,388.0L499.0,390.5L500.3,390.5L501.5,383.0L502.8,370.8L509.0,370.8L510.3,375.5L511.5,379.2L512.8,381.7L514.0,383.0L515.3,378.0L515.8,370.8L723.4,370.8L724.1,375.5L724.6,383.0L725.9,385.5L727.1,380.5L728.3,375.5L729.6,370.8L743.3,370.8L744.6,375.5L745.8,383.0L747.1,388.0L748.3,393.0L749.6,397.9L750.8,400.4L752.1,395.5L753.3,388.0L754.6,385.5L755.8,385.5L757.0,388.0L758.3,393.0L759.5,395.5L760.8,397.9L762.0,402.9L763.3,405.4L764.5,407.9L765.8,410.4L767.0,412.9L768.3,417.9L769.5,440.4L770.8,442.9L772.0,450.4L773.3,462.8L774.5,467.8L775.8,472.8L777.0,475.3L778.3,477.8L779.5,472.8L780.8,467.8L782.0,462.8L783.3,457.8L784.5,457.8L785.7,460.3L787.0,462.8L788.2,457.8L789.5,452.9L790.7,442.9L792.0,393.0L793.2,383.0L794.5,383.0L795.7,390.5L797.0,400.4L798.2,422.9L799.5,442.9L800.7,455.3L802.0,462.8L803.2,470.3L804.5,467.8L805.7,460.3L807.0,455.3L808.2,450.4L809.5,447.9L810.7,442.9L812.0,430.4L813.2,417.9L814.4,405.4L815.7,393.0L816.9,390.5L818.2,388.0L819.4,388.0L820.7,390.5L821.9,393.0L823.2,390.5L824.4,388.0L825.7,390.5L826.9,393.0L828.2,395.5L829.4,393.0L830.7,390.5L831.9,388.0L833.2,385.5L834.4,383.0L835.7,378.0L836.9,370.8L860.6,370.8L861.9,375.5L863.1,383.0L864.4,390.5L865.6,397.9L866.9,405.4L868.1,407.9L869.4,410.4L870.6,407.9L871.8,405.4L873.1,410.4L874.3,407.9L875.6,397.9L876.8,393.0L878.1,388.0L879.3,383.0L880.6,383.0L881.8,388.0L883.1,390.5L884.3,388.0L885.6,390.5L886.8,393.0L888.1,388.0L889.3,380.5L890.6,370.8L890.6,370.8Z" fill="#33CC33"/>
<path d="M114.5,370.8L114.5,370.8L115.0,314.8L116.2,312.3L117.5,309.8L118.7,304.8L120.0,302.3L121.2,299.8L122.5,294.8L123.7,284.8L125.0,281.1L126.2,281.1L127.5,277.4L128.7,278.6L130.0,284.8L131.2,294.8L132.5,302.3L133.7,312.3L134.9,317.3L136.2,324.8L137.4,334.8L139.9,339.7L142.4,342.2L144.9,347.2L147.4,349.7L149.9,348.5L152.4,346.0L154.9,343.5L157.4,339.7L159.9,332.3L162.4,318.5L164.9,302.3L167.4,294.8L168.6,292.3L169.9,291.1L172.4,291.1L174.9,294.8L177.4,304.8L179.9,314.8L182.4,322.3L184.9,329.8L187.4,337.3L189.9,342.2L192.3,357.2L193.6,370.8L204.3,370.8L204.8,314.8L206.1,309.8L207.3,294.8L208.6,282.3L209.8,289.8L211.1,294.8L212.3,302.3L213.6,312.3L214.8,319.8L216.1,327.3L217.3,331.0L218.6,339.7L219.8,332.3L221.0,329.8L222.3,329.8L223.5,327.3L224.8,329.8L226.0,334.8L227.3,342.2L228.5,342.2L229.8,347.2L231.0,370.8L232.8,370.8L233.5,357.2L236.8,356.0L237.8,370.8L243.5,370.8L244.3,362.2L246.8,362.2L247.3,370.8L257.7,370.8L258.5,359.7L259.7,324.8L261.0,322.3L262.2,322.3L263.5,329.8L264.7,312.3L266.0,294.8L267.2,277.4L268.5,274.9L269.7,274.9L271.0,289.8L272.2,302.3L273.5,314.8L274.7,327.3L276.0,344.7L277.2,370.8L290.9,370.8L292.2,354.7L293.4,352.2L294.7,349.7L295.9,347.2L297.2,352.2L298.4,349.7L299.7,352.2L300.9,354.7L302.2,357.2L303.4,370.8L305.4,370.8L305.9,347.2L307.1,344.7L308.4,339.7L309.6,334.8L310.9,332.3L312.1,324.8L313.4,322.3L314.6,319.8L315.9,314.8L317.1,322.3L318.4,334.8L319.6,349.7L320.9,364.7L322.1,370.8L332.9,370.8L333.4,370.8L334.1,344.7L335.8,344.7L336.6,370.8L337.6,370.8L338.3,319.8L339.6,319.8L340.8,319.8L342.1,322.3L343.3,329.8L344.6,334.8L345.8,342.2L347.1,344.7L348.3,352.2L349.6,370.8L375.5,370.8L376.7,364.7L378.0,352.2L379.2,334.8L380.5,319.8L381.7,307.3L382.5,299.8L383.0,269.9L384.2,264.9L385.5,267.4L386.7,262.4L388.0,261.1L389.2,267.4L390.5,269.9L391.7,262.4L393.0,259.9L394.2,257.4L395.5,254.9L396.7,256.1L398.0,264.9L399.2,272.4L400.5,289.8L401.7,307.3L402.9,324.8L404.2,337.3L405.4,342.2L406.7,344.7L407.9,347.2L409.2,344.7L410.4,347.2L411.7,349.7L412.9,351.0L414.2,352.2L415.4,354.7L416.7,357.2L417.9,359.7L419.2,370.8L419.9,370.8L420.9,357.2L421.7,344.7L422.9,342.2L424.2,339.7L425.4,337.3L426.7,338.5L427.9,339.7L429.2,337.3L430.4,334.8L431.6,329.8L432.9,319.8L434.1,317.3L435.4,312.3L436.6,314.8L437.9,317.3L439.1,322.3L440.4,324.8L441.6,329.8L442.9,334.8L444.1,342.2L445.4,349.7L446.6,357.2L447.9,367.2L449.1,370.8L462.3,370.8L462.8,370.8L464.1,307.3L465.3,302.3L466.6,299.8L467.8,294.8L469.1,287.3L470.3,282.3L471.6,282.3L472.8,284.8L474.1,287.3L475.3,292.3L476.6,299.8L477.8,309.8L479.1,322.3L480.3,344.7L481.6,359.7L482.8,370.8L501.5,370.8L502.8,359.7L505.3,357.2L507.8,354.7L510.3,357.2L511.5,370.8L547.7,370.8L548.4,334.8L548.9,319.8L550.2,312.3L551.4,304.8L552.7,299.8L553.9,289.8L555.2,277.4L556.4,267.4L557.7,254.9L558.9,252.4L560.2,251.2L561.4,249.9L562.7,249.9L563.9,248.7L565.2,244.9L566.4,242.4L567.7,234.9L568.9,224.9L570.2,220.0L571.4,217.5L572.7,216.2L573.9,217.5L575.1,220.0L576.4,221.2L577.6,220.0L578.9,222.5L580.1,221.2L581.4,218.7L582.6,217.5L583.9,218.7L585.1,215.0L586.4,213.7L587.6,215.0L588.9,217.5L590.1,220.0L591.4,222.5L592.6,224.9L593.9,229.9L595.1,234.9L596.4,239.9L597.6,244.9L598.9,247.4L600.1,252.4L601.4,257.4L602.6,262.4L603.8,269.9L605.1,274.9L606.3,277.4L607.6,279.9L608.8,279.9L610.1,279.9L611.3,281.1L612.6,282.3L613.8,287.3L615.1,292.3L616.3,292.3L617.6,289.8L618.8,287.3L620.1,284.8L621.3,282.3L622.6,269.9L623.8,262.4L625.1,259.9L626.3,257.4L627.6,254.9L628.8,252.4L630.1,249.9L631.3,244.9L632.5,242.4L633.8,241.2L635.0,242.4L636.3,244.9L637.5,247.4L638.8,252.4L640.0,257.4L641.0,247.4L642.2,246.2L643.5,239.9L646.0,234.9L648.5,223.7L651.0,224.9L653.5,226.2L656.0,226.2L658.5,232.4L661.0,239.9L663.5,244.9L666.0,257.4L668.5,269.9L670.9,289.8L672.2,314.8L673.4,314.8L674.7,307.3L675.9,297.3L678.4,289.8L680.9,284.8L683.4,282.3L685.9,279.9L688.4,277.4L690.9,274.9L692.2,289.8L694.7,294.8L697.2,312.3L699.6,312.3L702.1,299.8L704.6,294.8L707.1,289.8L709.6,289.8L710.9,307.3L712.1,334.8L713.4,344.7L714.6,357.2L715.9,359.7L717.1,354.7L718.4,349.7L719.6,344.7L720.9,349.7L722.1,370.8L730.3,370.8L730.8,337.3L732.1,337.3L732.8,370.8L737.8,370.8L738.3,344.7L740.3,344.7L740.8,370.8L816.9,370.8L818.2,359.7L819.4,359.7L820.7,349.7L821.9,344.7L823.2,339.7L824.4,329.8L825.7,317.3L826.9,319.8L828.2,324.8L829.4,304.8L830.7,302.3L831.9,302.3L833.2,284.8L834.4,282.3L835.7,279.9L836.9,269.9L838.2,259.9L839.4,242.4L840.7,237.4L841.9,232.4L843.1,232.4L844.4,247.4L845.6,269.9L846.9,287.3L848.1,299.8L849.4,299.8L850.6,299.8L851.9,302.3L853.1,307.3L854.4,314.8L855.6,324.8L856.9,340.5L857.6,357.2L858.1,370.8L893.8,370.8L894.3,344.7L895.6,344.7L896.8,349.7L897.3,370.8L897.3,370.8Z" fill="#FF9900"/>
<path d="M107.0,370.8L107.0,396.0L108.0,396.0L108.5,389.7L112.0,389.7L112.5,370.8L196.1,370.8L197.3,378.0L198.6,380.5L199.8,383.0L201.1,383.0L202.3,380.5L203.6,378.0L204.8,375.5L206.1,370.8L239.8,370.8L241.0,378.0L242.3,380.5L243.5,375.5L244.8,370.8L248.5,370.8L249.7,378.0L251.0,383.0L252.2,380.5L253.5,375.5L254.7,370.8L282.2,370.8L283.4,378.0L284.7,380.5L285.9,378.0L287.2,370.8L322.1,370.8L323.4,380.5L324.6,385.5L325.9,390.5L327.1,393.0L328.4,395.5L329.6,390.5L330.9,388.0L332.1,383.0L333.4,380.5L334.6,378.0L335.8,373.0L337.1,370.8L350.8,370.8L352.1,375.5L353.3,378.0L354.6,380.5L355.8,383.0L357.1,383.0L358.3,385.5L359.6,388.0L360.8,390.5L362.1,393.0L363.3,390.5L364.5,388.0L365.8,390.5L367.0,390.5L368.3,388.0L369.5,385.5L370.8,383.0L372.0,383.0L373.0,393.0L374.2,393.0L375.0,390.5L375.5,385.5L376.0,378.0L376.7,370.8L448.6,370.8L449.1,378.0L449.9,383.0L450.4,388.0L451.6,393.0L452.9,397.9L454.1,402.9L455.4,407.9L456.6,415.4L457.9,417.9L459.1,420.4L460.3,425.4L461.6,417.9L462.3,405.4L462.8,390.5L464.1,378.0L465.3,370.8L482.8,370.8L484.1,375.5L485.3,380.5L486.6,378.0L487.8,375.5L489.0,373.0L490.3,378.0L491.5,380.5L492.8,381.7L494.0,380.5L495.3,378.0L496.5,375.5L497.8,373.0L499.0,370.8L515.8,370.8L516.5,373.0L517.7,375.5L519.0,380.5L520.2,385.5L521.5,390.5L522.7,395.5L524.0,400.4L525.2,407.9L526.5,415.4L527.7,422.9L529.0,430.4L530.2,435.4L531.5,440.4L532.7,441.6L534.0,440.4L535.2,437.9L536.5,417.9L537.7,405.4L539.0,400.4L540.2,395.5L541.5,397.9L542.7,412.9L544.0,415.4L545.2,397.9L546.4,388.0L547.7,370.8L723.4,370.8L724.1,375.5L724.6,383.0L725.9,385.5L727.1,380.5L728.3,375.5L729.6,370.8L743.3,370.8L744.6,375.5L745.8,383.0L747.1,388.0L748.3,393.0L749.6,397.9L750.8,400.4L752.1,395.5L753.3,388.0L754.6,385.5L755.8,385.5L757.0,388.0L758.3,393.0L759.5,395.5L760.8,397.9L762.0,402.9L763.3,405.4L764.5,407.9L765.8,410.4L767.0,412.9L768.3,417.9L769.5,427.9L770.8,432.9L772.0,435.4L773.3,437.9L774.5,439.1L775.8,440.4L777.0,437.9L778.3,432.9L779.5,427.9L780.8,425.4L782.0,422.9L783.3,420.4L784.5,417.9L785.7,415.4L787.0,412.9L788.2,410.4L789.5,405.4L790.7,400.4L792.0,370.8L793.2,370.8L794.5,375.5L795.7,383.0L797.0,393.0L798.2,405.4L799.5,417.9L800.7,427.9L802.0,435.4L803.2,440.4L804.5,435.4L805.7,425.4L807.0,417.9L808.2,412.9L809.5,407.9L810.7,400.4L812.0,393.0L813.2,388.0L814.4,383.0L815.7,378.0L816.9,370.8L860.6,370.8L861.9,375.5L863.1,383.0L864.4,390.5L865.6,397.9L866.9,405.4L868.1,407.9L869.4,410.4L870.6,407.9L871.8,402.9L873.1,405.4L874.3,402.9L875.6,397.9L876.8,393.0L878.1,388.0L879.3,383.0L880.6,383.0L881.8,388.0L883.1,390.5L884.3,388.0L885.6,390.5L886.8,393.0L888.1,388.0L889.3,380.5L890.6,370.8L890.6,370.8Z" fill="#FF9900"/>
</g>
<line x1="107" y1="370.60" x2="966" y2="370.60" stroke="#000" stroke-opacity="0.55" stroke-width="1.4"/>
<line x1="107" y1="105.4" x2="966.3" y2="105.4" stroke="#707070" stroke-width="1.3"/>
<line x1="966.3" y1="105" x2="966.3" y2="548" stroke="#707070" stroke-width="1.3"/>
<line x1="107" y1="548" x2="966" y2="548" stroke="#808080" stroke-width="1.5"/>
<line x1="107.4" y1="105" x2="107.4" y2="548" stroke="#606060" stroke-width="1.2"/>
<line x1="101" y1="105.00" x2="107" y2="105.00" stroke="#777" stroke-width="1"/>
<line x1="102" y1="107.95" x2="107" y2="107.95" stroke="#777" stroke-width="1"/>
<line x1="102" y1="110.91" x2="107" y2="110.91" stroke="#777" stroke-width="1"/>
<line x1="102" y1="113.86" x2="107" y2="113.86" stroke="#777" stroke-width="1"/>
<line x1="102" y1="116.81" x2="107" y2="116.81" stroke="#777" stroke-width="1"/>
<line x1="102" y1="119.77" x2="107" y2="119.77" stroke="#777" stroke-width="1"/>
<line x1="102" y1="122.72" x2="107" y2="122.72" stroke="#777" stroke-width="1"/>
<line x1="102" y1="125.67" x2="107" y2="125.67" stroke="#777" stroke-width="1"/>
<line x1="102" y1="128.63" x2="107" y2="128.63" stroke="#777" stroke-width="1"/>
<line x1="102" y1="131.58" x2="107" y2="131.58" stroke="#777" stroke-width="1"/>
<line x1="101" y1="134.53" x2="107" y2="134.53" stroke="#777" stroke-width="1"/>
<line x1="102" y1="137.49" x2="107" y2="137.49" stroke="#777" stroke-width="1"/>
<line x1="102" y1="140.44" x2="107" y2="140.44" stroke="#777" stroke-width="1"/>
<line x1="102" y1="143.39" x2="107" y2="143.39" stroke="#777" stroke-width="1"/>
<line x1="102" y1="146.35" x2="107" y2="146.35" stroke="#777" stroke-width="1"/>
<line x1="102" y1="149.30" x2="107" y2="149.30" stroke="#777" stroke-width="1"/>
<line x1="102" y1="152.25" x2="107" y2="152.25" stroke="#777" stroke-width="1"/>
<line x1="102" y1="155.21" x2="107" y2="155.21" stroke="#777" stroke-width="1"/>
<line x1="102" y1="158.16" x2="107" y2="158.16" stroke="#777" stroke-width="1"/>
<line x1="102" y1="161.11" x2="107" y2="161.11" stroke="#777" stroke-width="1"/>
<line x1="101" y1="164.07" x2="107" y2="164.07" stroke="#777" stroke-width="1"/>
<line x1="102" y1="167.02" x2="107" y2="167.02" stroke="#777" stroke-width="1"/>
<line x1="102" y1="169.97" x2="107" y2="169.97" stroke="#777" stroke-width="1"/>
<line x1="102" y1="172.93" x2="107" y2="172.93" stroke="#777" stroke-width="1"/>
<line x1="102" y1="175.88" x2="107" y2="175.88" stroke="#777" stroke-width="1"/>
<line x1="102" y1="178.83" x2="107" y2="178.83" stroke="#777" stroke-width="1"/>
<line x1="102" y1="181.79" x2="107" y2="181.79" stroke="#777" stroke-width="1"/>
<line x1="102" y1="184.74" x2="107" y2="184.74" stroke="#777" stroke-width="1"/>
<line x1="102" y1="187.69" x2="107" y2="187.69" stroke="#777" stroke-width="1"/>
<line x1="102" y1="190.65" x2="107" y2="190.65" stroke="#777" stroke-width="1"/>
<line x1="101" y1="193.60" x2="107" y2="193.60" stroke="#777" stroke-width="1"/>
<line x1="102" y1="196.55" x2="107" y2="196.55" stroke="#777" stroke-width="1"/>
<line x1="102" y1="199.51" x2="107" y2="199.51" stroke="#777" stroke-width="1"/>
<line x1="102" y1="202.46" x2="107" y2="202.46" stroke="#777" stroke-width="1"/>
<line x1="102" y1="205.41" x2="107" y2="205.41" stroke="#777" stroke-width="1"/>
<line x1="102" y1="208.37" x2="107" y2="208.37" stroke="#777" stroke-width="1"/>
<line x1="102" y1="211.32" x2="107" y2="211.32" stroke="#777" stroke-width="1"/>
<line x1="102" y1="214.27" x2="107" y2="214.27" stroke="#777" stroke-width="1"/>
<line x1="102" y1="217.23" x2="107" y2="217.23" stroke="#777" stroke-width="1"/>
<line x1="102" y1="220.18" x2="107" y2="220.18" stroke="#777" stroke-width="1"/>
<line x1="101" y1="223.13" x2="107" y2="223.13" stroke="#777" stroke-width="1"/>
<line x1="102" y1="226.09" x2="107" y2="226.09" stroke="#777" stroke-width="1"/>
<line x1="102" y1="229.04" x2="107" y2="229.04" stroke="#777" stroke-width="1"/>
<line x1="102" y1="231.99" x2="107" y2="231.99" stroke="#777" stroke-width="1"/>
<line x1="102" y1="234.95" x2="107" y2="234.95" stroke="#777" stroke-width="1"/>
<line x1="102" y1="237.90" x2="107" y2="237.90" stroke="#777" stroke-width="1"/>
<line x1="102" y1="240.85" x2="107" y2="240.85" stroke="#777" stroke-width="1"/>
<line x1="102" y1="243.81" x2="107" y2="243.81" stroke="#777" stroke-width="1"/>
<line x1="102" y1="246.76" x2="107" y2="246.76" stroke="#777" stroke-width="1"/>
<line x1="102" y1="249.71" x2="107" y2="249.71" stroke="#777" stroke-width="1"/>
<line x1="101" y1="252.67" x2="107" y2="252.67" stroke="#777" stroke-width="1"/>
<line x1="102" y1="255.62" x2="107" y2="255.62" stroke="#777" stroke-width="1"/>
<line x1="102" y1="258.57" x2="107" y2="258.57" stroke="#777" stroke-width="1"/>
<line x1="102" y1="261.53" x2="107" y2="261.53" stroke="#777" stroke-width="1"/>
<line x1="102" y1="264.48" x2="107" y2="264.48" stroke="#777" stroke-width="1"/>
<line x1="102" y1="267.43" x2="107" y2="267.43" stroke="#777" stroke-width="1"/>
<line x1="102" y1="270.39" x2="107" y2="270.39" stroke="#777" stroke-width="1"/>
<line x1="102" y1="273.34" x2="107" y2="273.34" stroke="#777" stroke-width="1"/>
<line x1="102" y1="276.29" x2="107" y2="276.29" stroke="#777" stroke-width="1"/>
<line x1="102" y1="279.25" x2="107" y2="279.25" stroke="#777" stroke-width="1"/>
<line x1="101" y1="282.20" x2="107" y2="282.20" stroke="#777" stroke-width="1"/>
<line x1="102" y1="285.15" x2="107" y2="285.15" stroke="#777" stroke-width="1"/>
<line x1="102" y1="288.11" x2="107" y2="288.11" stroke="#777" stroke-width="1"/>
<line x1="102" y1="291.06" x2="107" y2="291.06" stroke="#777" stroke-width="1"/>
<line x1="102" y1="294.01" x2="107" y2="294.01" stroke="#777" stroke-width="1"/>
<line x1="102" y1="296.97" x2="107" y2="296.97" stroke="#777" stroke-width="1"/>
<line x1="102" y1="299.92" x2="107" y2="299.92" stroke="#777" stroke-width="1"/>
<line x1="102" y1="302.87" x2="107" y2="302.87" stroke="#777" stroke-width="1"/>
<line x1="102" y1="305.83" x2="107" y2="305.83" stroke="#777" stroke-width="1"/>
<line x1="102" y1="308.78" x2="107" y2="308.78" stroke="#777" stroke-width="1"/>
<line x1="101" y1="311.73" x2="107" y2="311.73" stroke="#777" stroke-width="1"/>
<line x1="102" y1="314.69" x2="107" y2="314.69" stroke="#777" stroke-width="1"/>
<line x1="102" y1="317.64" x2="107" y2="317.64" stroke="#777" stroke-width="1"/>
<line x1="102" y1="320.59" x2="107" y2="320.59" stroke="#777" stroke-width="1"/>
<line x1="102" y1="323.55" x2="107" y2="323.55" stroke="#777" stroke-width="1"/>
<line x1="102" y1="326.50" x2="107" y2="326.50" stroke="#777" stroke-width="1"/>
<line x1="102" y1="329.45" x2="107" y2="329.45" stroke="#777" stroke-width="1"/>
<line x1="102" y1="332.41" x2="107" y2="332.41" stroke="#777" stroke-width="1"/>
<line x1="102" y1="335.36" x2="107" y2="335.36" stroke="#777" stroke-width="1"/>
<line x1="102" y1="338.31" x2="107" y2="338.31" stroke="#777" stroke-width="1"/>
<line x1="101" y1="341.27" x2="107" y2="341.27" stroke="#777" stroke-width="1"/>
<line x1="102" y1="344.22" x2="107" y2="344.22" stroke="#777" stroke-width="1"/>
<line x1="102" y1="347.17" x2="107" y2="347.17" stroke="#777" stroke-width="1"/>
<line x1="102" y1="350.13" x2="107" y2="350.13" stroke="#777" stroke-width="1"/>
<line x1="102" y1="353.08" x2="107" y2="353.08" stroke="#777" stroke-width="1"/>
<line x1="102" y1="356.03" x2="107" y2="356.03" stroke="#777" stroke-width="1"/>
<line x1="102" y1="358.99" x2="107" y2="358.99" stroke="#777" stroke-width="1"/>
<line x1="102" y1="361.94" x2="107" y2="361.94" stroke="#777" stroke-width="1"/>
<line x1="102" y1="364.89" x2="107" y2="364.89" stroke="#777" stroke-width="1"/>
<line x1="102" y1="367.85" x2="107" y2="367.85" stroke="#777" stroke-width="1"/>
<line x1="101" y1="370.80" x2="107" y2="370.80" stroke="#777" stroke-width="1"/>
<line x1="102" y1="373.75" x2="107" y2="373.75" stroke="#777" stroke-width="1"/>
<line x1="102" y1="376.71" x2="107" y2="376.71" stroke="#777" stroke-width="1"/>
<line x1="102" y1="379.66" x2="107" y2="379.66" stroke="#777" stroke-width="1"/>
<line x1="102" y1="382.61" x2="107" y2="382.61" stroke="#777" stroke-width="1"/>
<line x1="102" y1="385.57" x2="107" y2="385.57" stroke="#777" stroke-width="1"/>
<line x1="102" y1="388.52" x2="107" y2="388.52" stroke="#777" stroke-width="1"/>
<line x1="102" y1="391.47" x2="107" y2="391.47" stroke="#777" stroke-width="1"/>
<line x1="102" y1="394.43" x2="107" y2="394.43" stroke="#777" stroke-width="1"/>
<line x1="102" y1="397.38" x2="107" y2="397.38" stroke="#777" stroke-width="1"/>
<line x1="101" y1="400.33" x2="107" y2="400.33" stroke="#777" stroke-width="1"/>
<line x1="102" y1="403.29" x2="107" y2="403.29" stroke="#777" stroke-width="1"/>
<line x1="102" y1="406.24" x2="107" y2="406.24" stroke="#777" stroke-width="1"/>
<line x1="102" y1="409.19" x2="107" y2="409.19" stroke="#777" stroke-width="1"/>
<line x1="102" y1="412.15" x2="107" y2="412.15" stroke="#777" stroke-width="1"/>
<line x1="102" y1="415.10" x2="107" y2="415.10" stroke="#777" stroke-width="1"/>
<line x1="102" y1="418.05" x2="107" y2="418.05" stroke="#777" stroke-width="1"/>
<line x1="102" y1="421.01" x2="107" y2="421.01" stroke="#777" stroke-width="1"/>
<line x1="102" y1="423.96" x2="107" y2="423.96" stroke="#777" stroke-width="1"/>
<line x1="102" y1="426.91" x2="107" y2="426.91" stroke="#777" stroke-width="1"/>
<line x1="101" y1="429.87" x2="107" y2="429.87" stroke="#777" stroke-width="1"/>
<line x1="102" y1="432.82" x2="107" y2="432.82" stroke="#777" stroke-width="1"/>
<line x1="102" y1="435.77" x2="107" y2="435.77" stroke="#777" stroke-width="1"/>
<line x1="102" y1="438.73" x2="107" y2="438.73" stroke="#777" stroke-width="1"/>
<line x1="102" y1="441.68" x2="107" y2="441.68" stroke="#777" stroke-width="1"/>
<line x1="102" y1="444.63" x2="107" y2="444.63" stroke="#777" stroke-width="1"/>
<line x1="102" y1="447.59" x2="107" y2="447.59" stroke="#777" stroke-width="1"/>
<line x1="102" y1="450.54" x2="107" y2="450.54" stroke="#777" stroke-width="1"/>
<line x1="102" y1="453.49" x2="107" y2="453.49" stroke="#777" stroke-width="1"/>
<line x1="102" y1="456.45" x2="107" y2="456.45" stroke="#777" stroke-width="1"/>
<line x1="101" y1="459.40" x2="107" y2="459.40" stroke="#777" stroke-width="1"/>
<line x1="102" y1="462.35" x2="107" y2="462.35" stroke="#777" stroke-width="1"/>
<line x1="102" y1="465.31" x2="107" y2="465.31" stroke="#777" stroke-width="1"/>
<line x1="102" y1="468.26" x2="107" y2="468.26" stroke="#777" stroke-width="1"/>
<line x1="102" y1="471.21" x2="107" y2="471.21" stroke="#777" stroke-width="1"/>
<line x1="102" y1="474.17" x2="107" y2="474.17" stroke="#777" stroke-width="1"/>
<line x1="102" y1="477.12" x2="107" y2="477.12" stroke="#777" stroke-width="1"/>
<line x1="102" y1="480.07" x2="107" y2="480.07" stroke="#777" stroke-width="1"/>
<line x1="102" y1="483.03" x2="107" y2="483.03" stroke="#777" stroke-width="1"/>
<line x1="102" y1="485.98" x2="107" y2="485.98" stroke="#777" stroke-width="1"/>
<line x1="101" y1="488.93" x2="107" y2="488.93" stroke="#777" stroke-width="1"/>
<line x1="102" y1="491.89" x2="107" y2="491.89" stroke="#777" stroke-width="1"/>
<line x1="102" y1="494.84" x2="107" y2="494.84" stroke="#777" stroke-width="1"/>
<line x1="102" y1="497.79" x2="107" y2="497.79" stroke="#777" stroke-width="1"/>
<line x1="102" y1="500.75" x2="107" y2="500.75" stroke="#777" stroke-width="1"/>
<line x1="102" y1="503.70" x2="107" y2="503.70" stroke="#777" stroke-width="1"/>
<line x1="102" y1="506.65" x2="107" y2="506.65" stroke="#777" stroke-width="1"/>
<line x1="102" y1="509.61" x2="107" y2="509.61" stroke="#777" stroke-width="1"/>
<line x1="102" y1="512.56" x2="107" y2="512.56" stroke="#777" stroke-width="1"/>
<line x1="102" y1="515.51" x2="107" y2="515.51" stroke="#777" stroke-width="1"/>
<line x1="101" y1="518.47" x2="107" y2="518.47" stroke="#777" stroke-width="1"/>
<line x1="102" y1="521.42" x2="107" y2="521.42" stroke="#777" stroke-width="1"/>
<line x1="102" y1="524.37" x2="107" y2="524.37" stroke="#777" stroke-width="1"/>
<line x1="102" y1="527.33" x2="107" y2="527.33" stroke="#777" stroke-width="1"/>
<line x1="102" y1="530.28" x2="107" y2="530.28" stroke="#777" stroke-width="1"/>
<line x1="102" y1="533.23" x2="107" y2="533.23" stroke="#777" stroke-width="1"/>
<line x1="102" y1="536.19" x2="107" y2="536.19" stroke="#777" stroke-width="1"/>
<line x1="102" y1="539.14" x2="107" y2="539.14" stroke="#777" stroke-width="1"/>
<line x1="102" y1="542.09" x2="107" y2="542.09" stroke="#777" stroke-width="1"/>
<line x1="102" y1="545.05" x2="107" y2="545.05" stroke="#777" stroke-width="1"/>
<line x1="101" y1="548.00" x2="107" y2="548.00" stroke="#777" stroke-width="1"/>
<text x="88.5" y="111.20" text-anchor="end" fill="#000000" class="yl">900,000枚</text>
<text x="88.5" y="140.73" text-anchor="end" fill="#000000" class="yl">800,000枚</text>
<text x="88.5" y="170.27" text-anchor="end" fill="#000000" class="yl">700,000枚</text>
<text x="88.5" y="199.80" text-anchor="end" fill="#000000" class="yl">600,000枚</text>
<text x="88.5" y="229.33" text-anchor="end" fill="#000000" class="yl">500,000枚</text>
<text x="88.5" y="258.87" text-anchor="end" fill="#000000" class="yl">400,000枚</text>
<text x="88.5" y="288.40" text-anchor="end" fill="#000000" class="yl">300,000枚</text>
<text x="88.5" y="317.93" text-anchor="end" fill="#000000" class="yl">200,000枚</text>
<text x="88.5" y="347.47" text-anchor="end" fill="#000000" class="yl">100,000枚</text>
<text x="86.6" y="377.00" text-anchor="end" fill="#000000" class="yl">0枚</text>
<text x="92.2" y="406.53" text-anchor="end" fill="#FF0000" class="yl">-100,000枚</text>
<text x="92.2" y="436.07" text-anchor="end" fill="#FF0000" class="yl">-200,000枚</text>
<text x="92.2" y="465.60" text-anchor="end" fill="#FF0000" class="yl">-300,000枚</text>
<text x="92.2" y="495.13" text-anchor="end" fill="#FF0000" class="yl">-400,000枚</text>
<text x="92.2" y="524.67" text-anchor="end" fill="#FF0000" class="yl">-500,000枚</text>
<text x="92.2" y="554.20" text-anchor="end" fill="#FF0000" class="yl">-600,000枚</text>
<text x="107.80" y="579.5" text-anchor="middle" class="xl">2014年</text>
<text x="239.95" y="579.5" text-anchor="middle" class="xl">2016年</text>
<text x="372.11" y="579.5" text-anchor="middle" class="xl">2018年</text>
<text x="504.26" y="579.5" text-anchor="middle" class="xl">2020年</text>
<text x="636.42" y="579.5" text-anchor="middle" class="xl">2022年</text>
<text x="768.57" y="579.5" text-anchor="middle" class="xl">2024年</text>
<text x="900.72" y="579.5" text-anchor="middle" class="xl">2026年</text>
</svg>
<div class="tt"></div>
<svg width="1074" height="80" style="position:absolute;left:0;top:0"><text x="223.2" y="49.6" font-size="20.5" transform="translate(225.2,49.6) scale(0.794,1.12) translate(-225.2,-49.6)">シ</text>
<text x="240.6" y="49.6" font-size="20.5" transform="translate(241.6,49.6) scale(0.729,1.12) translate(-241.6,-49.6)">カ</text>
<text x="253.8" y="49.6" font-size="20.5" transform="translate(255.8,49.6) scale(0.735,1.12) translate(-255.8,-49.6)">ゴ</text>
<text x="272.9" y="49.6" font-size="20.5" transform="translate(272.9,49.6) scale(0.924,1.0) translate(-272.9,-49.6)">主</text>
<text x="294.5" y="49.6" font-size="20.5" transform="translate(294.5,49.6) scale(0.905,1.0) translate(-294.5,-49.6)">要</text>
<text x="316.1" y="51" font-size="23" transform="translate(316.1,51) scale(0.842,1.0) translate(-316.1,-51)">3</text>
<text x="327.3" y="49.6" font-size="20.5" transform="translate(327.3,49.6) scale(0.914,1.0) translate(-327.3,-49.6)">穀</text>
<text x="348.1" y="49.6" font-size="20.5">物</text>
<text x="371.4" y="49.6" font-size="20.5">（</text>
<text x="388.8" y="49.6" font-size="20.5" transform="translate(391.8,49.6) scale(0.800,1.12) translate(-391.8,-49.6)">コ</text>
<text x="404.2" y="49.6" font-size="20.5" transform="translate(405.2,49.6) scale(0.863,1.12) translate(-405.2,-49.6)">ー</text>
<text x="421.8" y="49.6" font-size="20.5" transform="translate(423.8,49.6) scale(0.750,1.12) translate(-423.8,-49.6)">ン</text>
<text x="436.0" y="49.6" font-size="20.5">、</text>
<text x="454.4" y="49.6" font-size="20.5" transform="translate(454.4,49.6) scale(0.852,1.0) translate(-454.4,-49.6)">大</text>
<text x="474.5" y="49.6" font-size="20.5" transform="translate(474.5,49.6) scale(0.930,1.0) translate(-474.5,-49.6)">豆</text>
<text x="492.6" y="49.6" font-size="20.5">、</text>
<text x="510.2" y="49.6" font-size="20.5" transform="translate(510.2,49.6) scale(0.871,1.0) translate(-510.2,-49.6)">小</text>
<text x="531.1" y="49.6" font-size="20.5" transform="translate(531.1,49.6) scale(0.876,1.0) translate(-531.1,-49.6)">麦</text>
<text x="548.9" y="49.6" font-size="20.5">）</text>
<text x="572.5" y="49.6" font-size="20.5" transform="translate(573.5,49.6) scale(0.971,1.0) translate(-573.5,-49.6)">／</text>
<text x="594.1" y="49.6" font-size="20.5" transform="translate(595.1,49.6) scale(0.863,1.12) translate(-595.1,-49.6)">ネ</text>
<text x="610.8" y="49.6" font-size="20.5" transform="translate(613.8,49.6) scale(0.693,1.12) translate(-613.8,-49.6)">ッ</text>
<text x="620.2" y="49.6" font-size="20.5" transform="translate(627.2,49.6) scale(1.000,1.12) translate(-627.2,-49.6)">ト</text>
<text x="633.1" y="49.6" font-size="20.5">・</text>
<text x="648.7" y="49.6" font-size="20.5" transform="translate(651.7,49.6) scale(0.857,1.12) translate(-651.7,-49.6)">ロ</text>
<text x="663.9" y="49.6" font-size="20.5" transform="translate(665.9,49.6) scale(0.589,1.12) translate(-665.9,-49.6)">ン</text>
<text x="676.5" y="49.6" font-size="20.5" transform="translate(678.5,49.6) scale(0.775,1.12) translate(-678.5,-49.6)">グ</text>
<text x="699.8" y="49.6" font-size="20.5">（</text>
<text x="719.6" y="51" font-size="23" transform="translate(720.6,51) scale(0.936,1.0) translate(-720.6,-51)">2</text>
<text x="733.7" y="51" font-size="23" transform="translate(733.7,51) scale(0.908,1.0) translate(-733.7,-51)">0</text>
<text x="747.0" y="51" font-size="23" transform="translate(748.0,51) scale(0.755,1.0) translate(-748.0,-51)">1</text>
<text x="759.1" y="51" font-size="23" transform="translate(759.1,51) scale(0.908,1.0) translate(-759.1,-51)">4</text>
<text x="770.9" y="49.6" font-size="20.5" transform="translate(770.9,49.6) scale(0.886,1.0) translate(-770.9,-49.6)">年</text>
<path d="M795.3,44.3C797.2,41.3 799.6,40.1 802,41.6S806.2,45.9 808.6,45.2S811.4,42.6 812.3,41.5" fill="none" stroke="#000" stroke-width="1.4" stroke-linecap="round"/>
<path d="M816.6,33.2C821.6,38.6 821.6,46.6 816.6,51.8" fill="none" stroke="#000" stroke-width="1.4" stroke-linecap="round"/></svg>
<div class="ax">（買い越し幅）</div>
<div class="bx" style="left:112.5px;top:111.2px;width:98.6px;height:31.8px;"><span style="position:absolute;left:20px;top:7px;">買い越し</span></div>
<div class="bx" style="left:112.5px;top:512.3px;width:98.5px;height:31.3px;"><span style="position:absolute;left:20px;top:7px;">売り越し</span></div>
<svg width="1074" height="707" style="position:absolute;left:0;top:0"><g stroke="#1a1a1a" stroke-width="1.2" fill="none" stroke-linecap="butt"><path d="M124.5,121.3V134.8M120.6,124.9L124.5,121L128.4,124.9"/><path d="M124.4,522.5V535.9M120.5,532.1L124.4,536L128.3,532.1"/></g></svg>
<div class="lg">
<i style="left:37px;background:#00B0F0"></i><b style="left:52px;letter-spacing:0.5px">小麦</b>
<i style="left:122px;background:#33CC33"></i><b style="left:136px;letter-spacing:0.5px">大豆</b>
<i style="left:206px;background:#FF9900"></i><b style="left:219px;letter-spacing:-2.6px">コーン</b>
</div>
<div class="ft" style="left:1.8px;top:648px;letter-spacing:0.95px;">※2025年12月2日時点</div>
<div class="ft" style="left:778px;top:648px;transform:scaleX(0.877);transform-origin:0 0;">（CFTCの資料を基に豊トラスティ証券作成）</div>
<div class="nv"></div>
</body></html>
